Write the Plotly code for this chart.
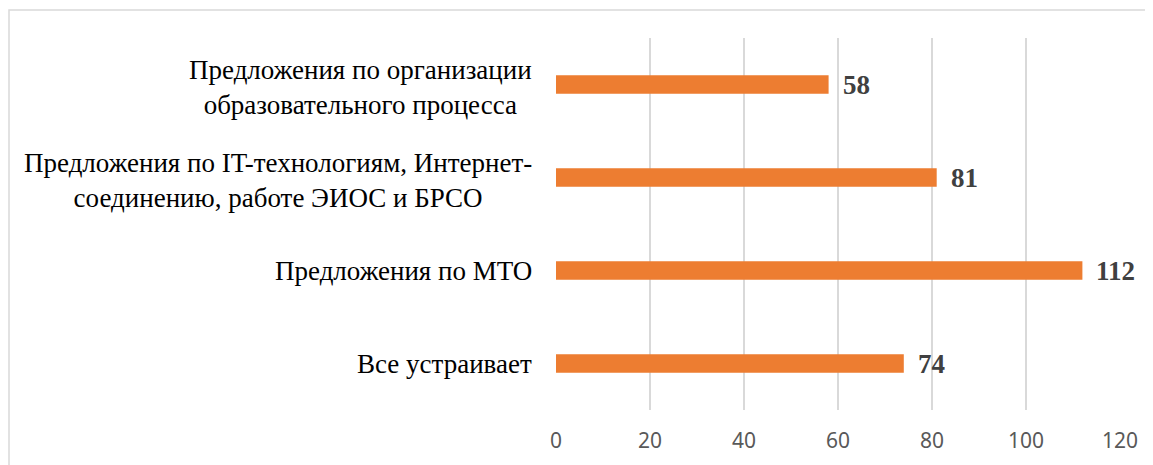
import plotly.graph_objects as go

categories = [
    "Все устраивает",
    "Предложения по МТО",
    "Предложения по IT-технологиям, Интернет-<br>соединению, работе ЭИОС и БРСО",
    "Предложения по организации<br>образовательного процесса",
]
values = [74, 112, 81, 58]
tick_vals = [0, 20, 40, 60, 80, 100, 120]

# page has an 8px body margin, so positions are offset by 8px
W, H = 1153, 465
OFF = 8
L, R, T, B = 556 - OFF, 33 + OFF, 38 - OFF, 55 + OFF

SERIF = "Liberation Serif, Times New Roman, serif"

fig = go.Figure()
fig.add_trace(go.Bar(
    y=categories, x=values, orientation="h",
    marker=dict(color="#ED7D31", line=dict(width=0)),
    hoverinfo="skip",
))

annotations = []
for c, v in zip(categories, values):
    annotations.append(dict(
        x=v, y=c, xref="x", yref="y", text=f"<b>{v}</b>", showarrow=False,
        xanchor="left", yanchor="middle", xshift=12,
        font=dict(family=SERIF, size=27, color="#404040"),
    ))
    multi = "<br>" in c
    annotations.append(dict(
        x=0, y=c, xref="paper", yref="y", text=c, showarrow=False,
        xanchor="right", yanchor="middle", align="center", xshift=-22,
        yshift=-3 if multi else 0,
        font=dict(family=SERIF, size=27, color="#000000"),
    ))

pw = W - L - R
ph = H - T - B
fig.update_layout(
    width=W, height=H,
    margin=dict(l=L, r=R, t=T, b=B, pad=0),
    paper_bgcolor="white", plot_bgcolor="white",
    showlegend=False,
    bargap=0.8,
    xaxis=dict(
        range=[0, 120], tickvals=tick_vals, showgrid=True,
        gridcolor="#D9D9D9", gridwidth=1.5, zeroline=False, showline=False,
        ticks="", ticklabelstandoff=16,
        tickfont=dict(family="Noto Sans", size=21, color="#595959"),
    ),
    yaxis=dict(showticklabels=False, showgrid=False, zeroline=False, showline=False),
    annotations=annotations,
    shapes=[dict(
        type="rect", xref="paper", yref="paper",
        x0=(9 - 556) / pw, x1=(1150 - 556) / pw,
        y0=(410 - 480) / ph, y1=1 + (38 - 10) / ph,
        line=dict(color="#D9D9D9", width=1.5), fillcolor="rgba(0,0,0,0)",
        layer="below",
    )],
)
fig.write_html("out.html")
